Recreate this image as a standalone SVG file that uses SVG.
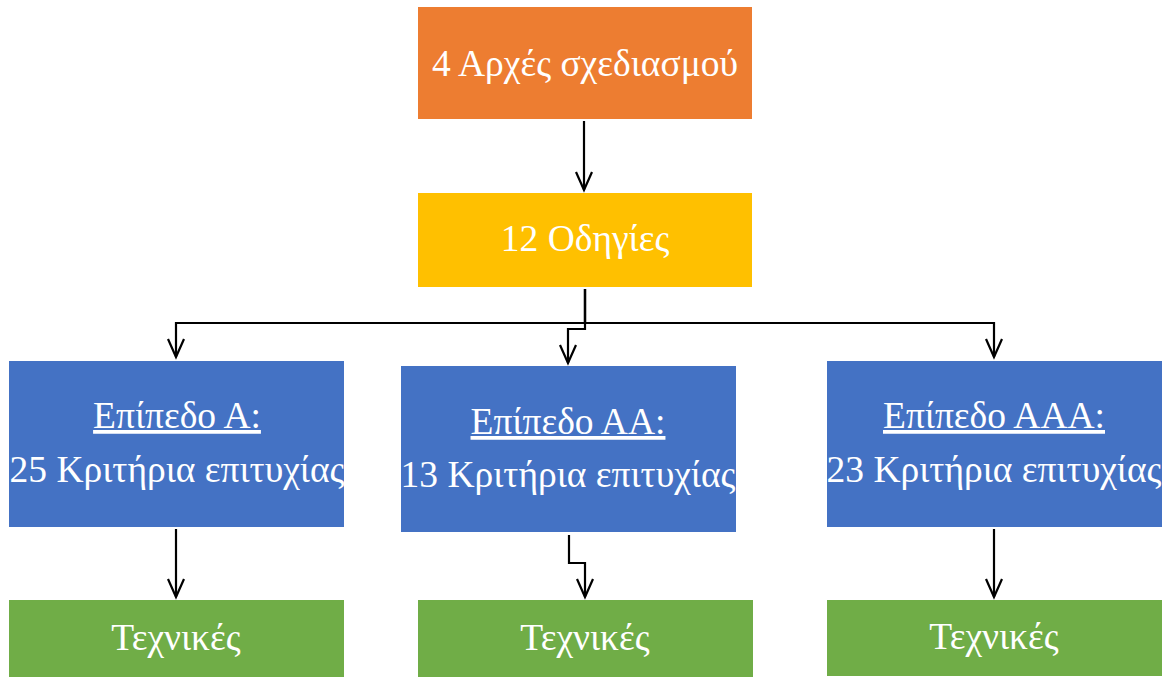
<svg xmlns="http://www.w3.org/2000/svg" width="1168" height="677" viewBox="0 0 1168 677">
<style>
.t{font-family:"Liberation Serif","Times New Roman",serif;font-size:37.5px;fill:#fff;text-anchor:middle}
.u{text-decoration:underline}
.c{fill:none;stroke:#000;stroke-width:2.2}
</style>
<defs>
<marker id="ah" viewBox="-20 -10 22 20" refX="0" refY="0" markerWidth="22" markerHeight="20" markerUnits="userSpaceOnUse" orient="auto" overflow="visible">
<path d="M-18,-8 L0,0 L-18,8" fill="none" stroke="#000" stroke-width="2.2"/>
</marker>
</defs>
<rect width="1168" height="677" fill="#fff"/>
<g id="connectors">
<path class="c" d="M584 121 V190" marker-end="url(#ah)"/>
<path class="c" d="M585 289 V323 H176 V357" marker-end="url(#ah)"/>
<path class="c" d="M585 289 V323 H994 V357" marker-end="url(#ah)"/>
<path class="c" d="M585 289 V329 H568 V363" marker-end="url(#ah)"/>
<path class="c" d="M176 529 V597" marker-end="url(#ah)"/>
<path class="c" d="M569 535 V563 H585 V597" marker-end="url(#ah)"/>
<path class="c" d="M994 529 V597" marker-end="url(#ah)"/>
</g>
<g id="principles">
<rect x="418" y="7" width="334" height="112" fill="#ED7D31"/>
<text class="t" x="585" y="76">4 Αρχές σχεδιασμού</text>
</g>
<g id="guidelines">
<rect x="418" y="193" width="334" height="94" fill="#FFC000"/>
<text class="t" x="585" y="251">12 Οδηγίες</text>
</g>
<g id="levelA">
<rect x="9" y="361" width="335" height="166" fill="#4472C4"/>
<text class="t u" x="177" y="428">Επίπεδο Α:</text>
<text class="t" x="177" y="482">25 Κριτήρια επιτυχίας</text>
</g>
<g id="levelAA">
<rect x="401" y="366" width="335" height="166" fill="#4472C4"/>
<text class="t u" x="568" y="434">Επίπεδο ΑΑ:</text>
<text class="t" x="568" y="487">13 Κριτήρια επιτυχίας</text>
</g>
<g id="levelAAA">
<rect x="827" y="361" width="335" height="166" fill="#4472C4"/>
<text class="t u" x="994" y="428">Επίπεδο ΑΑΑ:</text>
<text class="t" x="994" y="482">23 Κριτήρια επιτυχίας</text>
</g>
<g id="techA">
<rect x="9" y="600" width="335" height="77" fill="#70AD47"/>
<text class="t" x="176" y="650">Τεχνικές</text>
</g>
<g id="techAA">
<rect x="418" y="600" width="335" height="77" fill="#70AD47"/>
<text class="t" x="585" y="650">Τεχνικές</text>
</g>
<g id="techAAA">
<rect x="827" y="600" width="335" height="76" fill="#70AD47"/>
<text class="t" x="994" y="649">Τεχνικές</text>
</g>
</svg>
